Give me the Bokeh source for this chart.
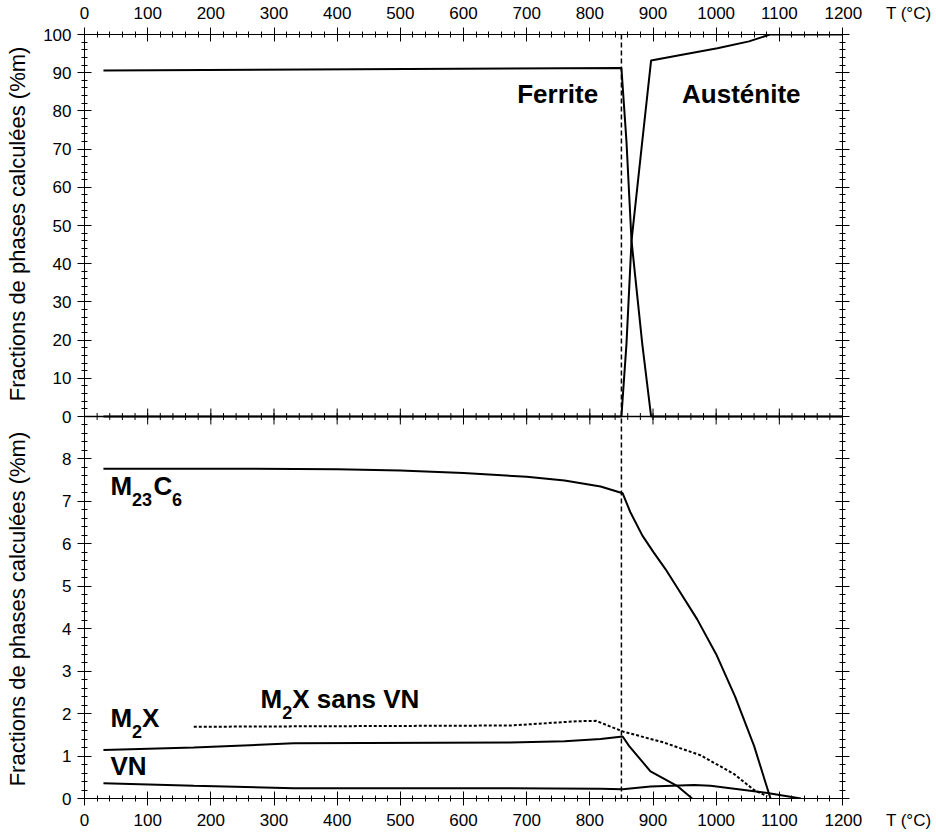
from bokeh.plotting import figure
from bokeh.models import Range1d, LinearAxis, FixedTicker, Span, Label
from bokeh.embed import file_html
from bokeh.resources import INLINE

# ---------------- data ----------------
T_ferrite = [30, 850, 858, 866, 883, 897, 1200]
ferrite = [90.6, 91.2, 72, 46, 19, 0, 0]

T_austenite = [30, 850, 858, 866, 883, 897, 946, 1002, 1052, 1085, 1200]
austenite = [0, 0, 19, 46, 72, 93.2, 94.7, 96.4, 98.2, 100, 100]

T_m23c6 = [30, 200, 400, 500, 600, 700, 760, 817, 852, 864, 883, 901, 920, 940, 970, 1000, 1030, 1060, 1086]
m23c6 = [7.77, 7.77, 7.76, 7.73, 7.67, 7.58, 7.49, 7.35, 7.19, 6.75, 6.20, 5.80, 5.40, 4.93, 4.22, 3.40, 2.40, 1.24, 0.0]

T_m2x = [30, 173, 331, 674, 760, 817, 852, 862, 896, 938, 962]
m2x = [1.14, 1.20, 1.30, 1.32, 1.35, 1.40, 1.46, 1.24, 0.64, 0.30, 0.0]

T_m2x_sans_vn = [173, 674, 780, 810, 852, 917, 975, 1028, 1060, 1081]
m2x_sans_vn = [1.69, 1.72, 1.82, 1.83, 1.58, 1.32, 1.02, 0.58, 0.20, 0.05]

T_vn = [30, 173, 331, 674, 817, 852, 896, 965, 991, 1081, 1134]
vn = [0.36, 0.30, 0.24, 0.24, 0.23, 0.22, 0.28, 0.32, 0.30, 0.13, 0.0]

T_transition = 850

x_major = list(range(0, 1201, 100))
x_minor = list(range(0, 1201, 20))
top_major = list(range(0, 101, 10))   # top panel (%)
top_minor = list(range(0, 101, 2))
bot_major = list(range(0, 9))         # bottom panel (%)
bot_minor = [i / 5 for i in range(0, 46)]

Y_LABEL = "Fractions de phases calculées (%m)"
T_LABEL = "T (°C)"

# ---------------- layout ----------------
FONT = "Liberation Sans"
W, H = 936, 834
ML, MR, MT, MB = 84, 94, 33, 36
frame_h = H - MT - MB
NB = "\u00a0"


def bot_to_main(v):   # bottom panel value -> axis units
    return v * 100.0


def top_to_main(v):   # top panel value -> axis units
    return 900.0 + 9.0 * v


p = figure(width=W, height=H, x_range=Range1d(0, 1200), y_range=Range1d(0, 1800),
           output_backend="svg", toolbar_location=None,
           x_axis_location=None, y_axis_location=None,
           min_border_left=ML, min_border_right=MR, min_border_top=MT, min_border_bottom=MB)
p.extra_y_ranges = {"top": Range1d(-100, 100), "bot": Range1d(0, 18)}
p.grid.visible = False
p.outline_line_color = None
p.background_fill_color = "white"
p.border_fill_color = "white"


def style_axis(ax, standoff=5):
    ax.axis_line_color = "black"
    ax.axis_line_width = 1
    ax.major_tick_line_color = "black"
    ax.minor_tick_line_color = "black"
    ax.major_tick_in = 7
    ax.major_tick_out = 7
    ax.minor_tick_in = 3
    ax.minor_tick_out = 3
    ax.major_label_text_font = FONT
    ax.major_label_text_font_size = "17px"
    ax.major_label_text_color = "black"
    ax.major_label_standoff = standoff


# x axes: the last tick label carries the unit label to its right
x_over = {t: str(t) for t in x_major}
x_over[1200] = NB * 15 + "1200" + NB * 5 + T_LABEL
xt = FixedTicker(ticks=x_major, minor_ticks=x_minor)
ax_top = LinearAxis(ticker=xt, major_label_overrides=x_over)
style_axis(ax_top, 5)
p.add_layout(ax_top, "above")
ax_bot = LinearAxis(ticker=xt, major_label_overrides=x_over)
style_axis(ax_bot, 5)
p.add_layout(ax_bot, "below")

y_major = [bot_to_main(v) for v in bot_major] + [top_to_main(v) for v in top_major]
y_minor = [bot_to_main(v) for v in bot_minor] + [top_to_main(v) for v in top_minor]
y_major = sorted(set(int(round(v)) for v in y_major))
y_minor = sorted(set(int(round(v)) for v in y_minor))
overrides = {}
for v in bot_major:
    overrides[int(round(bot_to_main(v)))] = str(v)
for v in top_major:
    overrides[int(round(top_to_main(v)))] = str(v)
yt = FixedTicker(ticks=y_major, minor_ticks=y_minor)
ax_left = LinearAxis(ticker=yt, major_label_overrides=overrides)
style_axis(ax_left, 6)
# one label per panel: two copies centred on each half of the frame
ax_left.axis_label = Y_LABEL + NB * 5 + Y_LABEL
ax_left.axis_label_text_font = FONT
ax_left.axis_label_text_font_size = "22px"
ax_left.axis_label_text_font_style = "normal"
ax_left.axis_label_text_color = "black"
ax_left.axis_label_standoff = 10
p.add_layout(ax_left, "left")
ax_right = LinearAxis(ticker=yt, major_label_overrides={k: "" for k in y_major})
style_axis(ax_right)
p.add_layout(ax_right, "right")

# boundary between the two panels with crossing ticks
mid = top_to_main(0)
p.add_layout(Span(location=mid, dimension="width", line_color="black", line_width=1.5))
u = 1800.0 / frame_h
p.segment(x0=x_minor, y0=[mid - 3.5 * u] * len(x_minor), x1=x_minor, y1=[mid + 3.5 * u] * len(x_minor),
          line_color="black", line_width=1)
p.segment(x0=x_major, y0=[mid - 8 * u] * len(x_major), x1=x_major, y1=[mid + 8 * u] * len(x_major),
          line_color="black", line_width=1)

# transition temperature
p.add_layout(Span(location=T_transition, dimension="height", line_color="black",
                  line_width=1.5, line_dash="5 3"))

# ---------------- curves ----------------
p.line(T_ferrite, ferrite, y_range_name="top", line_color="black", line_width=2)
p.line(T_austenite, austenite, y_range_name="top", line_color="black", line_width=2)
p.line(T_m23c6, m23c6, y_range_name="bot", line_color="black", line_width=2)
p.line(T_m2x, m2x, y_range_name="bot", line_color="black", line_width=2)
p.line(T_vn, vn, y_range_name="bot", line_color="black", line_width=2)
p.line(T_m2x_sans_vn, m2x_sans_vn, y_range_name="bot", line_color="black", line_width=2,
       line_dash="3 2")


# ---------------- text ----------------
def lab(x, y, text, rng, size="26px", dx=0):
    p.add_layout(Label(x=x, y=y, x_offset=dx, y_range_name=rng, text=text, text_font=FONT,
                       text_font_size=size, text_font_style="bold", text_color="black",
                       text_baseline="alphabetic", text_align="left"))


lab(685, 84.3, "Ferrite", "top")
lab(946, 84.3, "Austénite", "top")

lab(41.2, 7.37, "M", "bot")
lab(41.2, 7.04, "23", "bot", size="18px", dx=21.5)
lab(41.2, 7.37, "C", "bot", dx=43)
lab(41.2, 7.04, "6", "bot", size="18px", dx=61.5)

lab(41.2, 1.90, "M", "bot")
lab(41.2, 1.58, "2", "bot", size="18px", dx=21.5)
lab(41.2, 1.90, "X", "bot", dx=31.5)

lab(41.2, 0.76, "VN", "bot")

lab(278.6, 2.35, "M", "bot")
lab(278.6, 2.02, "2", "bot", size="18px", dx=21.7)
lab(278.6, 2.35, "X sans VN", "bot", dx=31.7)

open("out.html", "w").write(file_html(p, INLINE))
